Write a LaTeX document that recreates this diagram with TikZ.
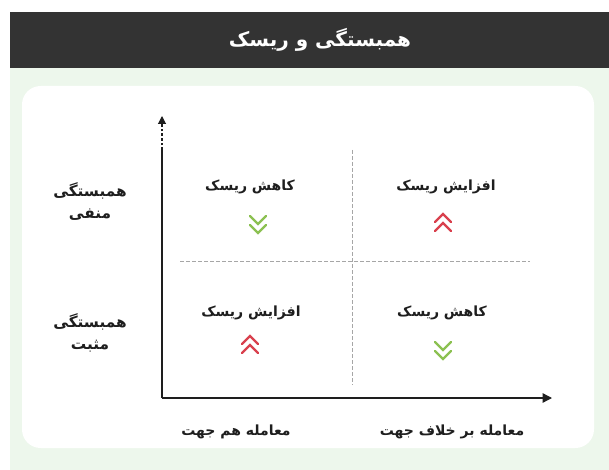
\documentclass[tikz,border=0pt]{standalone}
\usepackage{fontspec}
\newfontfamily\arabicfont[Script=Arabic]{DejaVu Sans}
\TeXXeTstate=1
\usetikzlibrary{arrows.meta}
\definecolor{hdr}{HTML}{333333}
\definecolor{pale}{HTML}{EDF7EC}
\definecolor{upred}{HTML}{D9414E}
\definecolor{dngreen}{HTML}{8CC152}
\definecolor{ink}{HTML}{1E1E1E}
\begin{document}
\begin{tikzpicture}[x=0.75pt,y=-0.75pt,
  lbl/.style={font=\arabicfont\bfseries\fontsize{10.5}{16}\selectfont, text=ink, align=center, inner sep=1pt},
  rowlbl/.style={lbl, font=\arabicfont\bfseries\fontsize{11.5}{16.5}\selectfont},
  ttl/.style={font=\arabicfont\bfseries\fontsize{15}{17}\selectfont, text=white, inner sep=1pt},
  axis/.style={draw=ink, line width=1pt},
  grid/.style={draw=gray!70, line width=0.6pt, dash pattern=on 3pt off 1.5pt},
  chev/.style={line width=1.7pt, line cap=round, line join=miter},
  pics/upchev/.style={code={
    \draw[chev, upred] (-8,-2) -- (0,-10) -- (8,-2);
    \draw[chev, upred] (-8,7) -- (0,-1) -- (8,7);}},
  pics/dnchev/.style={code={
    \draw[chev, dngreen] (-8,-7) -- (0,1) -- (8,-7);
    \draw[chev, dngreen] (-8,2) -- (0,10) -- (8,2);}}
]
\useasboundingbox (0,0) rectangle (609,470);
\fill[white] (0,0) rectangle (609,470);
\fill[pale] (10,68) rectangle (609,470);
\fill[white, rounded corners=14] (22,86) rectangle (594,448);
\fill[hdr] (10,12) rectangle (609,68);
\node[ttl] (title) at (320,40) {\beginR همبستگی و ریسک\endR};

% grid lines
\coordinate (vtop) at (352,150);
\coordinate (vbot) at (352,385);
\coordinate (hl) at (180,261);
\coordinate (hr) at (530,261);
\draw[grid] (vtop) -- (vbot);
\draw[grid] (hl) -- (hr);

% axes
\coordinate (o) at (162,398);
\coordinate (ymid) at (162,150);
\coordinate (ytop) at (162,116);
\coordinate (xend) at (552,398);
\draw[axis] (o) -- (ymid);
\draw[draw=ink, line width=0.8pt, dash pattern=on 2pt off 1.5pt, -{Triangle[length=6pt,width=6pt]}] (ymid) -- (ytop);
\draw[axis, -{Triangle[length=7pt,width=7pt]}] (o) -- (xend);

% row labels
\node[rowlbl] (neg) at (90,201) {\beginR همبستگی\endR\\\beginR منفی\endR};
\node[rowlbl] (pos) at (90,333) {\beginR همبستگی\endR\\\beginR مثبت\endR};

% quadrant labels
\node[lbl] (q1) at (250,187) {\beginR کاهش ریسک\endR};
\node[lbl] (q2) at (446,187) {\beginR افزایش ریسک\endR};
\node[lbl] (q3) at (251,313) {\beginR افزایش ریسک\endR};
\node[lbl] (q4) at (442,313) {\beginR کاهش ریسک\endR};

% chevrons
\pic at (258,223) {dnchev};
\pic at (443,224) {upchev};
\pic at (250,346) {upchev};
\pic at (443,349) {dnchev};

% axis labels
\node[lbl] (xl) at (236,432) {\beginR معامله هم جهت\endR};
\node[lbl] (xr) at (452,432) {\beginR معامله بر خلاف جهت\endR};
\end{tikzpicture}
\end{document}
